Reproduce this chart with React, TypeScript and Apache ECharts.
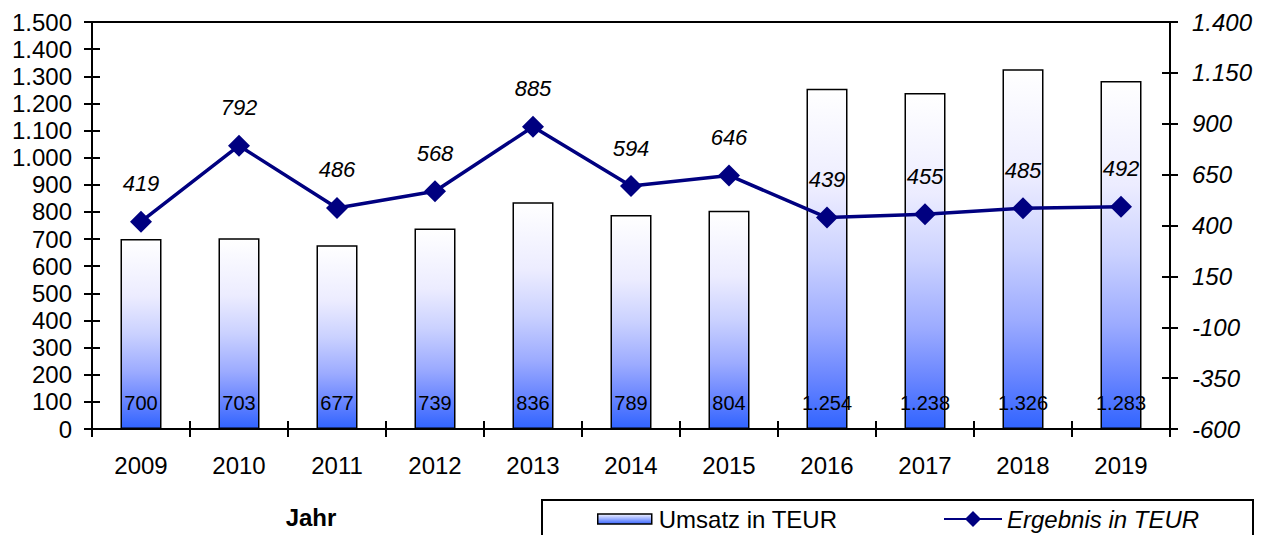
import React, { useEffect, useRef } from "react";
import * as echarts from "echarts";

const years = ["2009", "2010", "2011", "2012", "2013", "2014", "2015", "2016", "2017", "2018", "2019"];
const umsatz = [700, 703, 677, 739, 836, 789, 804, 1254, 1238, 1326, 1283];
const ergebnis = [419, 792, 486, 568, 885, 594, 646, 439, 455, 485, 492];
const seriesNames = ["Umsatz in TEUR", "Ergebnis in TEUR"];
const xAxisTitle = "Jahr";

const FONT = "'Liberation Sans', Arial, sans-serif";

function fmt(v: number | string): string {
  return String(v).replace(/\B(?=(\d{3})+(?!\d))/g, ".");
}

export default function App() {
  const ref = useRef<HTMLDivElement>(null);

  useEffect(() => {
    if (!ref.current) return;
    const chart = echarts.init(ref.current, null, { renderer: "svg" });

    const barGradient = new echarts.graphic.LinearGradient(0, 0, 0, 1, [
      { offset: 0, color: "#ffffff" },
      { offset: 0.3, color: "#ececff" },
      { offset: 0.5, color: "#cad1ff" },
      { offset: 0.7, color: "#9cabff" },
      { offset: 0.85, color: "#6a86ff" },
      { offset: 1, color: "#3164ff" },
    ]);
    const legendGradient = new echarts.graphic.LinearGradient(0, 0, 0, 1, [
      { offset: 0, color: "#f4f4ff" },
      { offset: 1, color: "#3a66ff" },
    ]);

    const leftMin = 0, leftMax = 1500, leftInt = 100;
    const rightMin = -600, rightMax = 1400, rightInt = 250;

    const axisLine = { show: true, onZero: false, lineStyle: { color: "#000", width: 2 } };
    const tickStyle = { color: "#000", width: 2 };

    chart.setOption({
      animation: false,
      backgroundColor: "#fff",
      textStyle: { fontFamily: FONT },
      grid: {
        left: 92,
        right: 98,
        top: 22,
        bottom: 106,
        containLabel: false,
        outerBoundsMode: "none",
        show: true,
        borderColor: "#000",
        borderWidth: 2,
        backgroundColor: "transparent",
      },
      xAxis: [
        {
          type: "category",
          data: years,
          boundaryGap: true,
          axisLine,
          axisTick: { show: true, inside: false, length: 8, lineStyle: tickStyle },
          axisLabel: { color: "#000", fontSize: 24, fontFamily: FONT, margin: 24 },
          splitLine: { show: false },
        },
        {
          type: "category",
          data: years,
          position: "bottom",
          boundaryGap: true,
          axisLine: { show: false, onZero: false },
          axisTick: { show: true, inside: true, length: 8, lineStyle: tickStyle },
          axisLabel: { show: false },
          splitLine: { show: false },
        },
      ],
      yAxis: [
        {
          type: "value",
          position: "left",
          min: leftMin,
          max: leftMax,
          interval: leftInt,
          axisLine,
          axisTick: { show: true, inside: false, length: 8, lineStyle: tickStyle },
          axisLabel: { color: "#000", fontSize: 24, fontFamily: FONT, margin: 20, formatter: (v: number) => fmt(v) },
          splitLine: { show: false },
        },
        {
          type: "value",
          position: "right",
          min: rightMin,
          max: rightMax,
          interval: rightInt,
          axisLine,
          axisTick: { show: true, inside: false, length: 8, lineStyle: tickStyle },
          axisLabel: {
            color: "#000",
            fontSize: 24,
            fontStyle: "italic",
            fontFamily: FONT,
            margin: 22,
            formatter: (v: number) => fmt(v),
          },
          splitLine: { show: false },
        },
        {
          type: "value",
          position: "left",
          min: leftMin,
          max: leftMax,
          interval: leftInt,
          axisLine: { show: false, onZero: false },
          axisTick: { show: true, inside: true, length: 8, lineStyle: tickStyle },
          axisLabel: { show: false },
          splitLine: { show: false },
        },
        {
          type: "value",
          position: "right",
          min: rightMin,
          max: rightMax,
          interval: rightInt,
          axisLine: { show: false, onZero: false },
          axisTick: { show: true, inside: true, length: 8, lineStyle: tickStyle },
          axisLabel: { show: false },
          splitLine: { show: false },
        },
      ],
      legend: [
        {
          left: 592,
          top: 502,
          itemWidth: 54,
          itemHeight: 10,
          selectedMode: false,
          data: [
            {
              name: seriesNames[0],
              icon: "rect",
              itemStyle: { color: legendGradient, borderColor: "#000", borderWidth: 1.5 },
            },
          ],
          textStyle: { color: "#000", fontSize: 24, fontFamily: FONT, padding: [0, 0, 0, 2] },
        },
        {
          left: 938,
          top: 502,
          itemWidth: 58,
          itemHeight: 20,
          selectedMode: false,
          data: [{ name: seriesNames[1] }],
          textStyle: { color: "#000", fontSize: 24, fontStyle: "italic", fontFamily: FONT, padding: [0, 0, 0, 0] },
        },
      ],
      graphic: [
        {
          type: "rect",
          shape: { x: 542, y: 500, width: 711, height: 60 },
          style: { fill: "none", stroke: "#000", lineWidth: 2 },
          silent: true,
        },
        {
          type: "text",
          x: 311,
          y: 517,
          style: {
            text: xAxisTitle,
            fill: "#000",
            font: `bold 24px ${FONT}`,
            textAlign: "center",
            textVerticalAlign: "middle",
          },
          silent: true,
        },
      ],
      series: [
        {
          name: seriesNames[0],
          type: "bar",
          xAxisIndex: 0,
          yAxisIndex: 0,
          data: umsatz,
          barWidth: 41,
          itemStyle: { color: barGradient, borderColor: "#000", borderWidth: 1.5 },
          label: {
            show: true,
            position: "insideBottom",
            distance: 16,
            color: "#000",
            fontSize: 20,
            fontFamily: FONT,
            formatter: (p: any) => fmt(p.value),
          },
          z: 2,
        },
        {
          name: seriesNames[1],
          type: "line",
          xAxisIndex: 0,
          yAxisIndex: 1,
          data: ergebnis,
          symbol: "diamond",
          symbolSize: 22,
          lineStyle: { color: "#000080", width: 3.5 },
          itemStyle: { color: "#000080" },
          label: {
            show: true,
            position: "top",
            distance: 16,
            color: "#000",
            fontSize: 22,
            fontStyle: "italic",
            fontFamily: FONT,
            formatter: (p: any) => fmt(p.value),
          },
          z: 5,
        },
      ],
    });

    return () => chart.dispose();
  }, []);

  return (
    <div
      ref={ref}
      style={{ position: "fixed", left: 0, top: 0, width: 1268, height: 535, background: "#fff" }}
    />
  );
}
